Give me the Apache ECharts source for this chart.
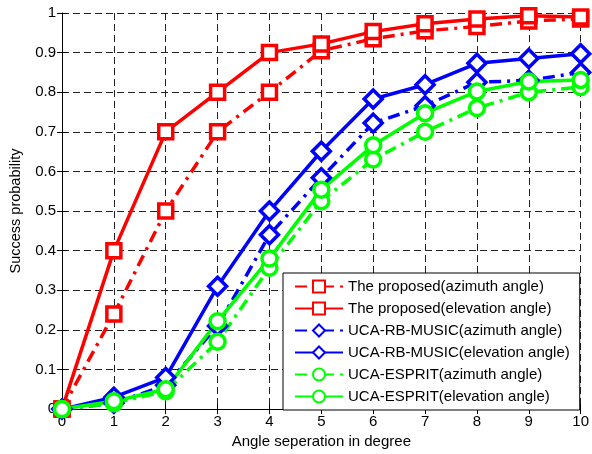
<!DOCTYPE html>
<html><head><meta charset="utf-8">
<script src="https://cdn.jsdelivr.net/npm/echarts@6/dist/echarts.min.js"></script>
<style>html,body{margin:0;padding:0;background:#fff}#c{width:592px;height:454px}</style>
</head><body><div id="c"></div>
<script>
const xValues = [0,1,2,3,4,5,6,7,8,9,10];
const proposedAz = [0,0.24,0.50,0.70,0.80,0.905,0.935,0.955,0.966,0.98,0.985];
const proposedEl = [0,0.40,0.70,0.80,0.90,0.922,0.953,0.973,0.985,0.993,0.99];
const rbMusicAz = [0,0.015,0.06,0.21,0.44,0.584,0.722,0.766,0.825,0.83,0.85];
const rbMusicEl = [0,0.03,0.08,0.31,0.50,0.651,0.783,0.819,0.873,0.885,0.897];
const espritAz = [0,0.015,0.045,0.17,0.357,0.525,0.63,0.70,0.76,0.80,0.813];
const espritEl = [0,0.02,0.05,0.222,0.38,0.554,0.666,0.747,0.802,0.827,0.831];
const seriesNames = ['The proposed(azimuth angle)','The proposed(elevation angle)','UCA-RB-MUSIC(azimuth angle)','UCA-RB-MUSIC(elevation angle)','UCA-ESPRIT(azimuth angle)','UCA-ESPRIT(elevation angle)'];

const RED='#ff0000', BLUE='#0000ff', GREEN='#00ff00';
const dashDot=[12,6,3,6];
function mk(name, data, color, symbol, dashed, size){
  return {
    name, type:'line', data: xValues.map((x,i)=>[x,data[i]]),
    symbol, symbolSize:size, showSymbol:true,
    lineStyle:{color, width:3.5, type: dashed?dashDot:'solid'},
    itemStyle:{color:'#fff', borderColor:color, borderWidth:3.5},
    animation:false
  };
}
const chart = echarts.init(document.getElementById('c'), null, {renderer:'canvas'});
const font = 'Liberation Sans, Arial, sans-serif';
chart.setOption({
  backgroundColor:'#fff',
  grid:{left:59, right:9, top:13, bottom:44},
  xAxis:[{type:'value', min:0, max:10, interval:1,
    name:'Angle seperation in degree', nameLocation:'middle', nameGap:23,
    nameTextStyle:{fontFamily:font, fontSize:15, color:'#000'},
    axisLine:{show:true, lineStyle:{color:'#000', width:1}},
    axisTick:{show:true, inside:true, length:5, lineStyle:{color:'#000'}},
    axisLabel:{fontFamily:font, fontSize:15, color:'#000', margin:5},
    splitLine:{show:true, lineStyle:{color:'#222', type:[7,4], width:1}}},
   {type:'value', min:0, max:10, interval:1, position:'top',
    axisLine:{show:false}, axisTick:{show:true, inside:true, length:5, lineStyle:{color:'#000'}},
    axisLabel:{show:false}, splitLine:{show:false}}],
  yAxis:[{type:'value', min:0, max:1, interval:0.1,
    name:'Success probability', nameLocation:'middle', nameGap:39,
    nameTextStyle:{fontFamily:font, fontSize:14.5, color:'#000'},
    axisLine:{show:true, lineStyle:{color:'#000', width:1}},
    axisTick:{show:true, inside:true, length:5, lineStyle:{color:'#000'}},
    axisLabel:{fontFamily:font, fontSize:15, color:'#000', margin:6,
      formatter:v=>String(+v.toFixed(1))},
    splitLine:{show:true, lineStyle:{color:'#222', type:[7,4], width:1}}},
   {type:'value', min:0, max:1, interval:0.1, position:'right',
    axisLine:{show:false}, axisTick:{show:true, inside:true, length:5, lineStyle:{color:'#000'}},
    axisLabel:{show:false}, splitLine:{show:false}}],
  legend:{orient:'vertical', left:283, top:273,
    padding:[6,10,6,11], itemWidth:48, itemHeight:15, itemGap:7,
    backgroundColor:'#fff', borderColor:'#000', borderWidth:1, borderRadius:0,
    textStyle:{fontFamily:font, fontSize:15, color:'#000'},
    data:seriesNames},
  series:[
    mk(seriesNames[0], proposedAz, RED, 'rect', true, 14),
    mk(seriesNames[1], proposedEl, RED, 'rect', false, 14),
    mk(seriesNames[2], rbMusicAz, BLUE, 'diamond', true, 18),
    mk(seriesNames[3], rbMusicEl, BLUE, 'diamond', false, 18),
    mk(seriesNames[4], espritAz, GREEN, 'circle', true, 15),
    mk(seriesNames[5], espritEl, GREEN, 'circle', false, 15)
  ]
});
</script></body></html>
